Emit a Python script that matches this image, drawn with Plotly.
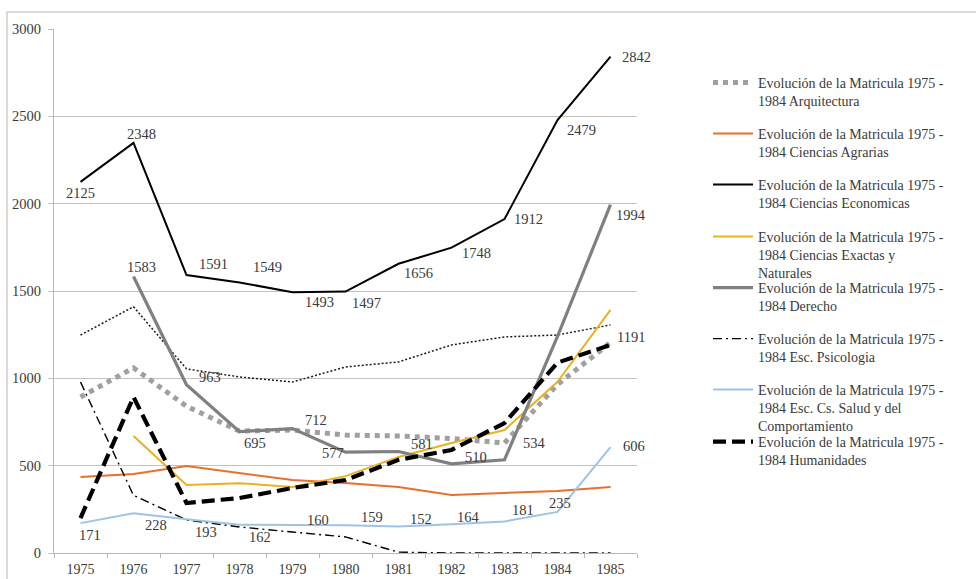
import plotly.graph_objects as go

# ---- data -----------------------------------------------------------------
years = list(range(1975, 1986))

arquitectura = [893, 1060, 840, 698, 704, 675, 670, 655, 630, 965, 1205]
agrarias = [435, 452, 498, 458, 418, 401, 378, 332, 344, 355, 378]
economicas = [2125, 2348, 1591, 1549, 1493, 1497, 1656, 1748, 1912, 2479, 2842]
exactas = [None, 670, 389, 400, 378, 440, 550, 630, 704, 980, 1392]
derecho = [None, 1583, 963, 695, 712, 577, 581, 510, 534, 1240, 1994]
psicologia = [979, 330, 189, 149, 120, 92, 5, 0, 0, 0, 0]
salud = [171, 228, 193, 162, 160, 159, 152, 164, 181, 235, 606]
humanidades = [200, 893, 286, 315, 372, 418, 533, 590, 744, 1090, 1191]
punteada = [1248, 1410, 1054, 1008, 979, 1065, 1094, 1191, 1237, 1248, 1306]

prefix = "Evolución de la Matricula 1975 -<br>1984 "
names = [
    prefix + "Arquitectura",
    prefix + "Ciencias Agrarias",
    prefix + "Ciencias Economicas",
    prefix + "Ciencias Exactas y<br>Naturales",
    prefix + "Derecho",
    prefix + "Esc. Psicologia",
    prefix + "Esc. Cs. Salud y del<br>Comportamiento",
    prefix + "Humanidades",
]

y_ticks = [0, 500, 1000, 1500, 2000, 2500, 3000]

# ---- styles ---------------------------------------------------------------
FONT = "Liberation Serif"
TXT = "#3a3a3a"

series = [
    (arquitectura, dict(color="#a0a0a0", width=5, dash="5px,5px")),
    (agrarias, dict(color="#e8702d", width=2)),
    (economicas, dict(color="#000000", width=2)),
    (exactas, dict(color="#e9b21e", width=2)),
    (derecho, dict(color="#808080", width=3.2)),
    (psicologia, dict(color="#000000", width=1.4, dash="9px,4px,2px,4px")),
    (salud, dict(color="#9dc3e6", width=2)),
    (humanidades, dict(color="#000000", width=4.2, dash="13px,6px")),
]

# per-label pixel offsets (dx, dy) for value labels
eco_off = [(0, -11), (8, 9), (27, 11), (28, 15), (27, -10), (21, -11),
           (20, -9), (25, -5), (24, 0), (24, -10), (26, 0)]
der_off = [None, (8, 10), (23, 8), (15, -11), (23, 9), (-13, -1),
           (23, 8), (24, 7), (30, 17), None, (20, -10)]
sal_off = [(9, -12), (22, -12), (19, -13), (20, -12), (25, 5), (26, 8),
           (22, 7), (17, 7), (18, 11), (2, 9), (23, 1)]
hum_off = [None] * 10 + [(20, 8)]

fig = go.Figure()

# thin dotted series without legend entry
fig.add_trace(go.Scatter(
    x=years, y=punteada, mode="lines", showlegend=False, hoverinfo="skip",
    line=dict(color="#1a1a1a", width=1.5, dash="2px,2px"),
))

legend_ids = ["legend"] + [f"legend{i}" for i in range(2, 9)]
for (vals, line), name, lid in zip(series, names, legend_ids):
    fig.add_trace(go.Scatter(
        x=years, y=vals, mode="lines", name=name, line=line,
        legend=lid, connectgaps=False,
    ))

# value labels
annotations = []
for vals, offs in [(economicas, eco_off), (derecho, der_off),
                   (salud, sal_off), (humanidades, hum_off)]:
    for x, v, off in zip(years, vals, offs):
        if v is None or off is None:
            continue
        annotations.append(dict(
            x=x, y=v, xref="x", yref="y", text=str(v), showarrow=False,
            xshift=off[0], yshift=off[1],
            font=dict(family=FONT, size=14.5, color=TXT),
        ))

# plot area in pixels: x 54..637, y 29..553
PL, PR, PT, PB = 54, 637, 29, 553
W, H = 976, 579
pw, ph = PR - PL, PB - PT

def px_x(px):
    return (px - PL) / pw

def px_y(py):
    return (PB - py) / ph

layout_legends = {}
legend_tops = [67, 118, 169, 221, 272, 323, 374, 426]
for lid, top in zip(legend_ids, legend_tops):
    layout_legends[lid] = dict(
        x=px_x(708), y=px_y(top), xanchor="left", yanchor="top",
        bgcolor="rgba(0,0,0,0)", borderwidth=0, valign="top",
        font=dict(family=FONT, size=14, color=TXT),
        itemwidth=40, tracegroupgap=0,
    )

fig.update_layout(
    width=W, height=H,
    margin=dict(l=PL, r=W - PR, t=PT, b=H - PB, pad=0, autoexpand=False),
    paper_bgcolor="white", plot_bgcolor="white",
    annotations=annotations,
    showlegend=True,
    **layout_legends,
    xaxis=dict(
        range=[1974.5, 1985.5], tickvals=years, ticktext=[str(y) for y in years],
        showgrid=False, zeroline=False, showline=True, linecolor="#bdb5b2",
        linewidth=1, ticks="", automargin=False,
        tickfont=dict(family=FONT, size=14, color=TXT),
        minor=dict(tick0=1974.5, dtick=1, ticks="outside", ticklen=4,
                   tickcolor="#bdb5b2", showgrid=False),
        ticklabelstandoff=3, fixedrange=True,
    ),
    yaxis=dict(
        range=[0, 3000], tickvals=y_ticks, ticktext=[str(v) for v in y_ticks],
        showgrid=True, gridcolor="#c9c0bd", gridwidth=1, zeroline=False,
        showline=True, linecolor="#bdb5b2", linewidth=1, automargin=False,
        ticks="outside", ticklen=5, tickcolor="#c9c0bd",
        tickfont=dict(family=FONT, size=14.5, color=TXT),
        ticklabelstandoff=4, fixedrange=True,
    ),
    shapes=[dict(
        type="rect", xref="paper", yref="paper",
        x0=px_x(7), x1=px_x(990), y0=px_y(600), y1=px_y(12),
        line=dict(color="#d3cdca", width=1.5), fillcolor="rgba(0,0,0,0)",
        layer="below",
    )],
)

fig.write_html("out.html")
